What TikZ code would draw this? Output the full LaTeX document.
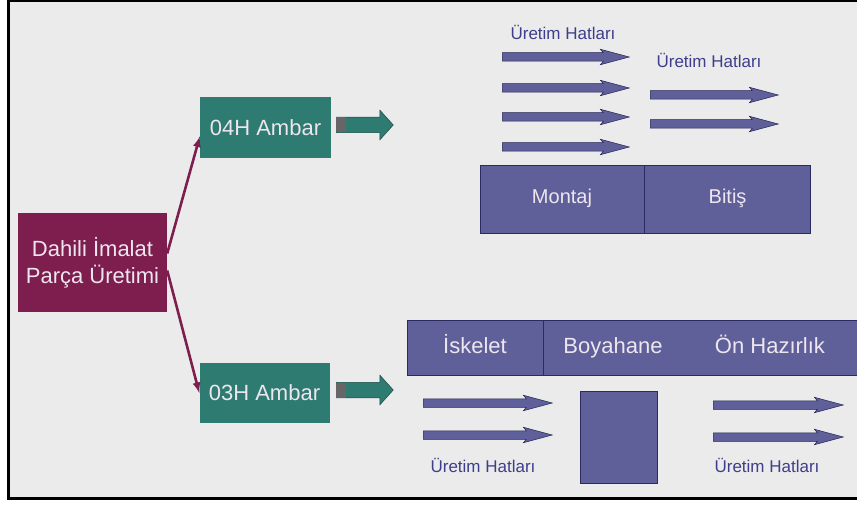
\documentclass[tikz,border=0pt]{standalone}
\usepackage{fontspec}
\setmainfont{Liberation Sans}
\usetikzlibrary{arrows,shapes,positioning}
\definecolor{zemin}{HTML}{EBEBEB}
\definecolor{bordo}{HTML}{7E1E4E}
\definecolor{camgobegi}{HTML}{2E7B72}
\definecolor{mor}{HTML}{5F5F99}
\definecolor{koyumor}{HTML}{3E3E8C}
\definecolor{yazi}{HTML}{EEE6EE}

\begin{document}
\begin{tikzpicture}[x=1pt, y=-1pt,
    kutu/.style={rectangle, inner sep=0pt, text=yazi, align=center, font=\fontsize{22}{27}\selectfont},
    bolum/.style={rectangle, inner sep=0pt, fill=mor, draw=koyumor!70!black, line width=0.6pt, text=yazi},
    bantyazi/.style={text=yazi, inner sep=0pt, text height=16pt, text depth=5pt, font=\fontsize{22}{26}\selectfont},
    hat/.style={single arrow, fill=mor, draw=koyumor!60!black, line width=0.5pt, inner sep=0pt, inner ysep=4pt,
        single arrow head extend=3.5pt, single arrow tip angle=30, single arrow head indent=3pt,
        minimum height=127pt, anchor=tail},
    okblok/.style={single arrow, fill=camgobegi, draw=camgobegi!60!black, line width=0.5pt, inner sep=0pt, inner ysep=7.5pt,
        single arrow head extend=7pt, single arrow tip angle=96, minimum height=57pt, anchor=tail},
    etiket/.style={text=koyumor, font=\fontsize{17}{20}\selectfont, inner sep=0pt}]
    \useasboundingbox (0,0) rectangle (857,505);

    % Frame
    \fill[zemin] (8,1) rectangle (857,498);
    \draw[line width=3pt] (857,1) -- (8,1) -- (8,498) -- (857,498);

    % Production and warehouses
    \node[kutu, fill=bordo, minimum width=149pt, minimum height=99pt] (dahili) at (92.5,262.5) {Dahili İmalat\\Parça Üretimi};
    \node[kutu, fill=camgobegi, minimum width=131pt, minimum height=61pt] (a04) at (265.5,127.5) {04H Ambar};
    \node[kutu, fill=camgobegi, minimum width=130pt, minimum height=60pt] (a03) at (264.5,393) {03H Ambar};

    % Connections
    \draw[bordo, line width=2.6pt, -latex] ([yshift=9pt]dahili.east) -- ([yshift=-9pt]a04.west);
    \draw[bordo, line width=2.6pt, -latex] ([yshift=-8pt]dahili.east) -- (a03.west);

    % Block arrows
    \node[okblok] (ok04) at (336,125) {};
    \node[fill=gray!80!black, inner sep=0pt, minimum width=10pt, minimum height=15pt, anchor=west] (uc04) at (ok04.tail) {};
    \node[okblok] (ok03) at (336,390) {};
    \node[fill=gray!80!black, inner sep=0pt, minimum width=10pt, minimum height=15pt, anchor=west] (uc03) at (ok03.tail) {};

    % Montaj and Bitis
    \node[bolum, minimum width=164pt, minimum height=68pt, text height=15pt, text depth=5pt, font=\fontsize{20}{24}\selectfont] (montaj) at (562,199) {Montaj};
    \node[bolum, minimum width=166pt, minimum height=68pt, text height=15pt, text depth=5pt, font=\fontsize{20}{24}\selectfont, right=0pt of montaj] (bitis) {Bitiş};

    \node[etiket] (hat1) at (563,32) {Üretim Hatları};
    \node[hat] (m1) at (502,57) {};
    \node[hat] (m2) at (502,88) {};
    \node[hat] (m3) at (502,117) {};
    \node[hat] (m4) at (502,147) {};

    \node[etiket] (hat2) at (709,60) {Üretim Hatları};
    \node[hat, minimum height=128pt] (b1) at (650,95) {};
    \node[hat, minimum height=128pt] (b2) at (650,124) {};

    % Iskelet, Boyahane, On Hazirlik
    \node[bolum, minimum width=136pt, minimum height=55pt] (iskelet) at (475,347.5) {};
    \node[bolum, minimum width=316pt, minimum height=55pt, anchor=west] (bant) at (iskelet.east) {};
    \node[bantyazi] (iskeletyazi) at (iskelet) {İskelet};
    \node[bantyazi] (boyahane) at (613,347.5) {Boyahane};
    \node[bantyazi] (onhazirlik) at (770,347.5) {Ön Hazırlık};

    \node[hat, minimum height=129pt] (s1) at (423,403) {};
    \node[hat, minimum height=129pt] (s2) at (423,435) {};
    \node[etiket] (hat3) at (483,465) {Üretim Hatları};

    \node[bolum, minimum width=77pt, minimum height=92pt] (kare) at (618.5,437) {};

    \node[hat, minimum height=130pt] (r1) at (713,405) {};
    \node[hat, minimum height=130pt] (r2) at (713,437) {};
    \node[etiket] (hat4) at (767,465) {Üretim Hatları};

\end{tikzpicture}
\end{document}
